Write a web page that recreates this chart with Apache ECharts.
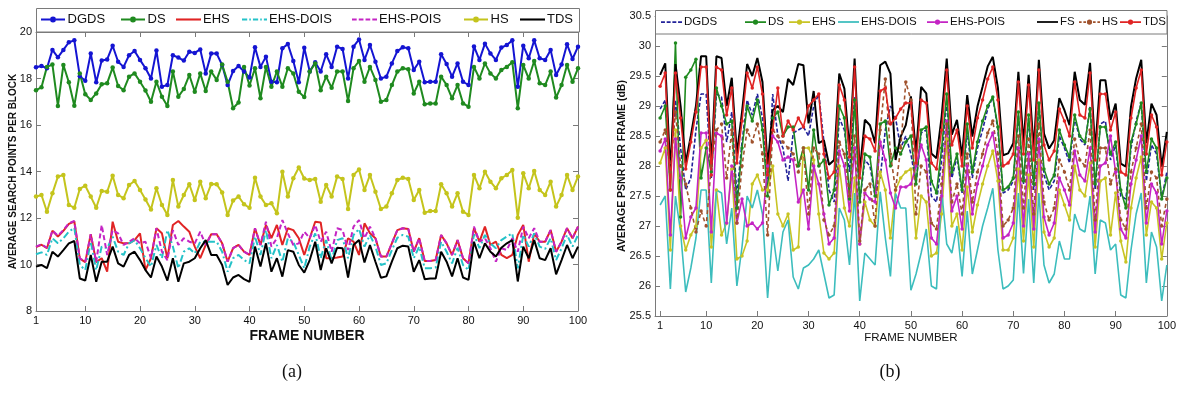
<!DOCTYPE html>
<html><head><meta charset="utf-8">
<script src="https://cdn.jsdelivr.net/npm/echarts@6/dist/echarts.min.js"></script>
<style>html,body{margin:0;padding:0;background:#fff}#c{width:1179px;height:409px}</style>
</head><body><div id="c"></div>
<script>
// ---------- Panel (a): average search points per block ----------
const xTicks = [1,10,20,30,40,50,60,70,80,90,100];
const a_DGDS = [18.48,18.54,18.44,19.23,18.91,19.23,19.56,19.64,18.1,17.9,
19.08,17.84,18.77,18.82,19.41,18.72,18.5,19.0,19.18,18.8,
18.44,18.0,19.2,17.65,17.72,19.0,18.9,18.77,19.15,19.1,
19.25,18.22,19.07,19.07,18.58,17.72,18.32,18.54,18.3,18.04,
19.34,18.5,18.94,17.86,17.84,19.3,19.48,18.75,17.84,19.32,
18.3,18.7,18.3,19.04,18.5,19.37,19.27,18.0,19.37,19.68,
18.8,19.44,18.72,18.0,18.08,18.65,19.18,19.34,19.3,18.37,
18.72,17.84,17.86,17.86,19.04,18.62,18.08,18.65,17.86,17.72,
19.38,18.8,19.5,19.08,18.8,19.33,19.44,19.64,17.65,19.41,
18.87,19.64,18.87,18.8,19.23,18.15,18.6,19.47,18.84,19.37];
const a_DS = [17.5,17.62,18.5,18.6,16.82,18.58,17.84,16.83,18.22,17.32,
17.08,17.36,17.75,17.8,18.47,17.68,17.5,18.08,18.22,17.86,
17.48,17.0,17.86,17.22,16.82,18.3,17.22,17.55,18.15,17.43,
18.22,17.46,18.3,17.94,18.6,17.86,16.72,16.97,18.5,17.7,
18.44,17.15,18.5,17.65,18.3,17.65,18.44,18.22,17.43,17.2,
18.3,18.65,17.5,18.08,17.6,18.3,18.3,17.03,18.44,18.75,
17.86,18.5,17.94,17.0,17.08,17.72,18.3,18.44,18.4,17.36,
17.86,16.89,16.93,16.93,18.08,17.72,17.15,17.72,16.93,16.79,
18.5,18.0,18.65,18.22,18.0,18.37,18.5,18.7,16.72,18.58,
18.0,18.75,17.8,17.72,18.3,17.18,17.72,18.58,17.86,18.44];
const a_EHS = [10.75,10.85,10.7,11.45,11.2,11.45,11.75,11.85,10.25,10.1,
11.3,10.1,10.27,9.69,11.84,10.98,10.91,10.91,11.05,11.34,
9.76,10.27,11.56,11.34,10.27,11.7,11.87,11.63,11.41,10.77,
10.27,10.84,11.3,11.3,10.91,10.12,10.7,10.84,10.55,10.41,
11.56,10.84,11.7,11.13,11.7,10.84,11.56,11.48,11.13,10.41,
11.13,11.84,11.81,10.27,10.27,10.3,10.34,11.13,10.98,10.41,
11.77,11.34,11.13,10.34,10.34,10.91,11.48,11.56,11.53,10.55,
11.13,10.15,10.15,10.19,11.27,10.91,10.41,11.05,10.27,10.05,
11.56,10.98,11.63,10.84,10.98,10.41,10.27,10.41,11.27,11.7,
10.12,11.34,10.98,10.98,11.48,10.55,10.98,11.56,11.13,11.63];
const a_EHS_DOIS = [10.44,10.52,10.41,11.13,10.91,11.13,11.41,11.58,9.98,9.76,
10.98,9.76,10.77,10.7,11.2,10.55,10.41,10.91,11.05,10.7,
10.27,9.91,10.84,10.27,11.48,10.77,9.84,10.55,10.7,10.48,
10.98,10.98,10.98,10.98,10.55,9.69,10.27,10.41,10.19,10.05,
11.2,10.41,11.48,10.27,10.84,10.12,11.13,10.98,10.41,9.84,
10.77,11.34,10.27,11.05,10.19,11.05,11.13,10.27,11.27,11.53,
10.77,11.27,10.77,9.98,10.05,10.62,11.15,11.27,11.2,10.27,
10.77,9.84,9.84,9.87,10.98,10.55,10.05,10.72,9.98,9.76,
11.3,10.7,11.27,10.91,10.7,11.05,11.2,11.34,9.84,11.27,
10.77,11.34,10.77,10.67,11.13,10.19,10.7,11.27,10.77,11.27];
const a_EHS_POIS = [10.77,10.87,10.72,11.46,11.24,11.48,11.77,11.87,10.27,10.12,
11.3,10.12,11.7,10.41,11.48,11.34,10.84,10.98,11.13,10.91,
10.98,10.27,11.56,10.55,10.19,11.48,10.84,11.13,10.98,10.91,
11.41,10.84,11.3,11.3,10.91,10.12,10.7,10.84,10.55,10.41,
11.56,10.84,11.84,10.77,11.13,11.91,11.34,10.84,10.91,11.41,
11.13,11.7,10.98,11.41,10.55,11.56,11.48,10.62,11.63,11.91,
11.13,11.63,11.13,10.34,10.34,10.91,11.48,11.56,11.53,10.55,
11.13,10.15,10.15,10.19,11.27,10.91,10.41,11.05,10.27,10.05,
11.63,10.98,11.13,10.7,10.12,10.7,10.62,11.13,10.55,11.63,
11.13,11.56,10.98,10.98,11.48,10.55,10.98,11.56,11.13,11.63];
const a_HS = [12.92,12.99,12.27,13.06,13.78,13.85,12.56,12.44,13.25,13.39,
12.92,12.44,13.16,13.13,13.82,12.99,12.85,13.42,13.59,13.2,
12.8,12.37,13.28,12.56,12.13,13.63,12.49,12.99,13.45,12.77,
13.56,12.85,13.46,13.45,13.1,12.13,12.75,12.92,12.59,12.44,
13.73,12.92,12.56,12.63,12.2,13.99,12.92,13.71,14.17,13.7,
13.63,13.68,12.7,13.42,12.92,13.78,13.68,12.39,13.85,14.09,
13.2,13.85,13.13,12.39,12.49,13.06,13.63,13.73,13.68,12.77,
13.2,12.23,12.3,12.3,13.45,13.06,12.49,13.06,12.27,12.13,
13.85,13.28,13.99,13.56,13.28,13.71,13.85,14.06,12.01,13.92,
13.28,14.02,13.2,12.99,13.56,12.49,12.99,13.85,13.2,13.78];
const a_TDS = [9.91,9.98,9.84,10.55,10.34,10.62,10.91,11.01,9.4,9.31,
10.41,9.26,10.12,10.12,10.77,10.05,9.91,10.41,10.55,10.19,
9.76,9.44,10.34,9.91,9.31,10.27,9.26,10.05,10.12,10.27,
10.7,11.05,10.41,10.41,9.98,9.12,9.44,9.55,9.37,9.25,
10.77,9.91,10.91,9.69,10.27,9.48,10.62,10.55,9.98,9.65,
10.19,10.98,9.76,10.7,10.05,10.72,10.7,9.44,10.84,11.05,
10.09,10.84,10.12,9.43,9.49,10.12,10.7,10.81,10.77,9.69,
10.19,9.37,9.4,9.4,10.55,10.12,9.49,10.27,9.44,9.34,
10.98,10.27,10.91,10.55,10.34,10.72,10.91,11.05,9.27,10.77,
10.27,11.05,10.27,10.19,10.7,9.58,10.19,10.84,10.27,10.77];

// ---------- Panel (b): average PSNR per frame (dB) ----------
const b_DGDS = [28.95,29.1,28.0,29.1,28.3,27.6,27.8,28.6,29.2,29.2,
27.8,29.2,29.15,28.4,28.9,27.5,28.4,29.1,28.85,29.2,
28.8,27.6,29.2,28.5,28.3,27.75,28.55,28.6,28.65,28.5,
29.0,29.2,28.4,27.6,27.4,28.8,28.6,27.9,29.15,27.4,
28.1,28.0,27.5,27.8,28.6,29.0,28.8,28.3,28.5,28.2,
27.7,28.55,28.6,27.5,27.4,28.1,29.1,27.8,28.15,27.55,
28.6,27.8,28.3,28.6,28.95,29.15,28.6,27.55,27.6,27.75,
28.85,27.7,28.8,27.6,29.05,27.85,27.6,27.75,28.5,28.3,
28.05,28.8,28.45,28.35,29.0,27.6,28.7,28.75,28.1,28.35,
27.5,27.45,28.3,28.75,29.05,27.75,28.35,28.2,27.45,27.9];
const b_DS = [28.8,29.0,27.6,30.05,27.15,29.48,29.6,29.78,27.8,28.3,
27.9,29.3,29.0,28.7,28.75,27.3,28.3,29.0,28.75,29.1,
28.6,27.5,28.8,28.9,28.5,28.65,28.65,28.0,28.3,27.6,
28.6,28.0,28.1,27.35,27.6,29.0,28.8,27.45,29.1,27.4,
28.2,28.15,27.5,28.7,28.75,28.0,28.3,28.2,28.4,28.5,
27.7,28.6,28.65,27.75,27.55,28.3,29.2,27.9,28.2,27.6,
28.7,27.9,28.4,28.75,29.0,29.15,28.65,27.6,27.65,27.8,
28.9,27.75,28.85,27.7,29.05,27.95,27.7,27.85,28.6,28.35,
28.15,28.85,28.5,28.4,28.95,27.7,28.65,28.65,28.2,28.4,
27.6,27.3,28.4,28.7,29.05,27.9,28.45,28.3,27.45,27.8];
const b_EHS = [28.05,28.3,26.6,28.6,27.0,26.6,26.85,27.0,28.3,28.43,
26.65,27.6,26.85,27.05,27.95,26.45,26.5,26.75,27.7,27.85,
27.6,27.6,28.0,27.2,27.0,27.2,26.6,26.65,28.3,28.3,
28.1,27.2,26.55,26.45,26.55,28.0,27.3,27.0,27.8,26.7,
27.4,27.1,27.0,27.9,27.6,26.8,27.6,27.8,27.9,27.95,
26.8,27.5,27.4,26.5,26.55,27.2,28.45,27.0,27.2,26.6,
27.65,26.9,27.35,27.7,28.0,28.25,27.75,26.6,26.6,26.8,
27.95,26.75,27.85,26.65,28.1,26.9,26.65,26.8,27.6,27.35,
27.1,28.0,27.6,27.5,28.05,26.65,27.75,27.8,26.85,27.55,
26.75,26.4,27.3,27.8,28.15,26.85,27.4,27.3,26.45,27.05];
const b_EHS_DOIS = [27.35,27.5,25.95,27.5,26.9,25.9,26.3,26.8,27.6,27.6,
26.05,27.6,27.55,26.7,27.3,26.0,26.65,27.5,27.3,27.6,
27.2,25.8,26.9,26.25,26.9,27.1,26.15,25.95,26.3,26.35,
26.45,26.6,26.2,25.8,25.85,27.3,27.1,26.35,27.55,25.75,
26.55,26.45,26.35,27.57,26.8,26.16,27.54,27.3,27.3,25.93,
26.2,26.55,26.95,26.0,25.95,27.6,26.7,26.55,27.0,26.16,
27.25,26.2,26.6,27.0,27.3,27.63,26.6,25.95,26.0,26.1,
27.55,26.21,27.45,26.05,27.55,26.35,26.05,26.2,26.75,26.45,
26.45,27.2,26.95,26.9,27.5,26.2,27.1,27.05,26.6,26.7,
25.85,25.8,26.6,27.2,27.55,26.05,26.9,26.65,25.75,26.35];
const b_EHS_POIS = [28.25,28.45,26.85,28.45,27.8,26.8,27.15,27.3,28.55,28.55,
26.9,28.55,28.5,27.05,28.0,27.05,27.45,27.0,27.05,26.95,
27.05,28.0,28.5,28.4,28.1,28.15,28.1,27.4,27.6,26.95,
28.0,27.7,27.2,26.7,26.8,28.25,28.0,27.25,28.3,26.7,
27.55,27.45,27.4,28.4,28.1,27.55,27.3,27.65,27.65,27.7,
28.0,28.35,28.1,26.8,26.7,27.5,28.75,27.25,27.5,26.95,
28.0,27.2,27.7,28.0,28.35,28.55,28.0,26.8,26.85,27.05,
28.3,27.0,28.2,26.95,28.45,27.15,26.85,27.05,27.8,27.6,
27.35,28.25,27.85,27.75,28.3,26.9,28.0,28.05,28.5,27.9,
26.95,26.8,27.7,28.1,28.5,27.05,27.7,27.55,26.7,27.25];
const b_FS = [29.52,29.71,27.9,29.7,29.0,28.05,28.5,29.0,29.83,29.83,
28.0,29.83,29.8,29.0,29.47,28.2,28.9,29.7,29.5,29.8,
29.4,27.99,28.93,29.0,28.9,29.45,29.35,29.7,29.68,28.71,
29.25,28.38,28.43,28.02,28.1,29.54,29.29,28.27,29.79,27.9,
28.77,28.68,28.38,29.68,29.74,29.54,28.1,28.49,28.68,29.16,
28.21,29.32,29.21,28.21,28.13,28.82,29.79,28.52,28.77,28.16,
29.18,28.49,28.99,29.32,29.66,29.82,29.3,28.18,28.21,28.38,
29.57,28.38,29.52,28.27,29.77,28.54,28.29,28.43,29.13,28.93,
28.68,29.57,29.1,29.02,29.72,28.27,29.43,29.43,28.77,29.04,
28.04,27.99,28.99,29.46,29.77,28.38,29.04,28.85,27.99,28.57];
const b_HS = [28.4,28.6,27.9,28.9,28.0,27.7,27.3,26.9,27.25,27.0,
28.0,28.6,28.7,27.8,28.6,27.05,28.0,28.6,28.4,28.7,
28.2,26.85,28.6,28.5,28.4,28.3,28.2,27.9,28.3,27.2,
28.3,28.2,27.1,26.85,27.0,28.4,28.2,27.5,28.5,26.75,
27.6,27.7,27.0,28.6,29.45,28.2,27.6,28.3,29.4,29.1,
27.2,28.0,27.9,27.05,26.95,27.7,28.7,27.4,27.7,27.2,
28.2,27.4,27.9,28.2,28.55,28.75,28.2,27.0,27.1,27.3,
28.5,27.3,28.45,27.2,28.7,27.4,27.1,27.3,28.1,27.9,
27.6,28.45,28.1,28.0,28.6,27.1,28.3,28.3,27.7,27.95,
27.1,26.95,27.9,28.3,28.7,27.3,27.9,27.8,27.0,27.45];
const b_TDS = [29.33,29.55,27.6,29.55,28.8,27.95,28.4,28.9,29.65,29.65,
27.85,29.65,29.6,28.85,29.3,28.05,28.75,29.55,29.3,29.65,
29.2,27.85,28.6,29.3,28.5,28.75,28.6,28.8,28.65,29.0,
29.1,29.2,28.2,27.8,27.9,29.35,29.1,28.15,29.65,27.8,
28.5,28.45,28.25,29.25,29.3,28.7,28.8,28.95,29.05,29.05,
28.05,29.1,29.05,28.05,27.95,28.6,29.6,28.35,28.6,28.0,
29.0,28.3,28.8,29.1,29.45,29.65,29.1,28.0,28.05,28.2,
29.4,28.2,29.35,28.1,29.6,28.35,28.1,28.25,28.95,28.75,
28.5,29.4,28.85,28.8,29.55,28.1,29.2,29.2,28.6,28.9,
27.9,27.85,28.8,29.3,29.6,28.2,28.85,28.65,27.85,28.4];

const FONT = '"Liberation Sans", Arial, sans-serif';
const pairs = v => v.map((y, i) => [i + 1, y]);

// legend icon shapes (24 x 6 box)
const ICON_LINE = 'path://M0,2L24,2L24,4L0,4Z';
const ICON_DOT = 'path://M0,2L9,2L9,4L0,4Z M15,2L24,2L24,4L15,4Z M9,3A3,3 0 1,1 15,3A3,3 0 1,1 9,3Z';
const ICON_DASH = 'path://M0,2L4.5,2L4.5,4L0,4Z M6.5,2L11,2L11,4L6.5,4Z M13,2L17.5,2L17.5,4L13,4Z M19.5,2L24,2L24,4L19.5,4Z';
const ICON_DASHDOT = 'path://M0,2L5,2L5,4L0,4Z M7,2L8.5,2L8.5,4L7,4Z M10.5,2L15.5,2L15.5,4L10.5,4Z M17.5,2L19,2L19,4L17.5,4Z M21,2L24,2L24,4L21,4Z';
const ICON_DASHDOTM = 'path://M0,2L3,2L3,4L0,4Z M5,2L8,2L8,4L5,4Z M16,2L19,2L19,4L16,4Z M21,2L24,2L24,4L21,4Z M9,3A3,3 0 1,1 15,3A3,3 0 1,1 9,3Z';

const chart = echarts.init(document.getElementById('c'), null, {renderer: 'canvas'});

function xAx(grid, min, pos, show, size, name, nameSize, nameBold, gap) {
  return {
    type: 'value', gridIndex: grid, min: min, max: 100, position: pos,
    axisLine: {show: true, onZero: false, lineStyle: {color: '#7a7a7a', width: 1}},
    axisTick: {show: true, inside: true, length: 5, customValues: xTicks, lineStyle: {color: '#7a7a7a'}},
    axisLabel: {show: show, customValues: xTicks, color: '#111', fontFamily: FONT, fontSize: size, margin: 4},
    splitLine: {show: false},
    name: show ? name : '', nameLocation: 'middle', nameGap: gap, nameMoveOverlap: false,
    nameTextStyle: {fontFamily: FONT, fontSize: nameSize, fontWeight: nameBold ? 'bold' : 'normal', color: '#111'}
  };
}
function yAx(grid, min, max, interval, pos, show, size, name, nameSize, gap) {
  return {
    type: 'value', gridIndex: grid, min: min, max: max, interval: interval, position: pos,
    axisLine: {show: true, onZero: false, lineStyle: {color: '#7a7a7a', width: 1}},
    axisTick: {show: true, inside: true, length: 5, lineStyle: {color: '#7a7a7a'}},
    axisLabel: {show: show, color: '#111', fontFamily: FONT, fontSize: size, margin: 4},
    splitLine: {show: false},
    name: show ? name : '', nameLocation: 'middle', nameRotate: 90, nameGap: gap, nameMoveOverlap: false,
    nameTextStyle: {fontFamily: FONT, fontSize: nameSize, fontWeight: 'bold', color: '#111'}
  };
}

function lineA(name, data, color, opts) {
  return Object.assign({
    type: 'line', name: name, xAxisIndex: 0, yAxisIndex: 0, data: pairs(data),
    symbol: 'none', showSymbol: false, symbolSize: 4.5,
    lineStyle: {color: color, width: 2}, itemStyle: {color: color},
    animation: false, z: 3
  }, opts || {});
}
function lineB(name, data, color, opts) {
  return Object.assign({
    type: 'line', name: 'b:' + name, xAxisIndex: 2, yAxisIndex: 2, data: pairs(data),
    symbol: 'none', showSymbol: false, symbolSize: 3.5,
    lineStyle: {color: color, width: 1.6}, itemStyle: {color: color},
    animation: false, z: 3
  }, opts || {});
}
const dots = {symbol: 'circle', showSymbol: true};

const series = [
  lineA('DGDS', a_DGDS, '#1414d2', dots),
  lineA('DS', a_DS, '#1f8a1f', dots),
  lineA('EHS', a_EHS, '#e02424'),
  lineA('EHS-DOIS', a_EHS_DOIS, '#24c2c8', {lineStyle: {color: '#24c2c8', width: 2, type: [7, 3, 2, 3]}}),
  lineA('EHS-POIS', a_EHS_POIS, '#c424c4', {lineStyle: {color: '#c424c4', width: 2, type: [5, 3]}}),
  lineA('HS', a_HS, '#c4c41c', dots),
  lineA('TDS', a_TDS, '#000000'),
  lineB('DGDS', b_DGDS, '#22229a', {lineStyle: {color: '#22229a', width: 1.6, type: [4, 2]}}),
  lineB('DS', b_DS, '#1f8a1f', dots),
  lineB('EHS', b_EHS, '#c8c424', dots),
  lineB('EHS-DOIS', b_EHS_DOIS, '#3cbdbd'),
  lineB('EHS-POIS', b_EHS_POIS, '#c424c4', dots),
  lineB('FS', b_FS, '#000000', {lineStyle: {color: '#000', width: 2}}),
  lineB('HS', b_HS, '#a0522d', Object.assign({lineStyle: {color: '#a0522d', width: 1.6, type: [4, 3]}}, dots)),
  lineB('TDS', b_TDS, '#e02424', dots)
];

const legA = [['DGDS', 41, ICON_DOT], ['DS', 121, ICON_DOT], ['EHS', 176, ICON_LINE], ['EHS-DOIS', 242, ICON_DASHDOT],
              ['EHS-POIS', 352, ICON_DASH], ['HS', 464, ICON_DOT], ['TDS', 520, ICON_LINE]];
const legB = [['DGDS', 661, ICON_DASH], ['DS', 745, ICON_DOT], ['EHS', 789, ICON_DOT], ['EHS-DOIS', 838, ICON_LINE],
              ['EHS-POIS', 927, ICON_DOT], ['FS', 1037, ICON_LINE], ['HS', 1079, ICON_DASHDOTM], ['TDS', 1120, ICON_DOT]];
const legends = [];
legA.forEach(([n, x, ic]) => legends.push({
  data: [{name: n, icon: ic}], left: x, top: 13, itemWidth: 25, itemHeight: 6, itemGap: 0, padding: 0,
  selectedMode: false, z: 50, itemStyle: {borderWidth: 0},
  textStyle: {fontFamily: FONT, fontSize: 13, color: '#111', padding: [0, 0, 0, -3]}
}));
legB.forEach(([n, x, ic]) => legends.push({
  data: [{name: 'b:' + n, icon: ic}], left: x, top: 16, itemWidth: 21, itemHeight: 5.25, itemGap: 0, padding: 0,
  selectedMode: false, z: 50, itemStyle: {borderWidth: 0}, formatter: s => s.replace('b:', ''),
  textStyle: {fontFamily: FONT, fontSize: 11.5, color: '#111', padding: [0, 0, 0, -3]}
}));

chart.setOption({
  animation: false,
  backgroundColor: '#fff',
  grid: [
    {left: 36, top: 32, width: 542, height: 279, containLabel: false},
    {left: 655, top: 16, width: 512, height: 300, containLabel: false}
  ],
  xAxis: [
    xAx(0, 1, 'bottom', true, 11, 'FRAME NUMBER', 14, true, 18),
    xAx(0, 1, 'top', false, 11, '', 14, true, 18),
    xAx(1, 0, 'bottom', true, 11, 'FRAME NUMBER', 11.5, false, 16),
    xAx(1, 0, 'top', false, 11, '', 11.5, false, 16)
  ],
  yAxis: [
    yAx(0, 8, 20, 2, 'left', true, 11, 'AVERAGE SEARCH POINTS PER BLOCK', 10, 18),
    yAx(0, 8, 20, 2, 'right', false, 11, '', 10, 18),
    yAx(1, 25.5, 30.5, 0.5, 'left', true, 11, 'AVERAGE PSNR PER FRAME (dB)', 10.5, 27),
    yAx(1, 25.5, 30.5, 0.5, 'right', false, 11, '', 10.5, 27)
  ],
  legend: legends,
  series: series,
  graphic: [
    {type: 'rect', z: 40, shape: {x: 36.5, y: 8.5, width: 543, height: 23.5}, style: {fill: '#fff', stroke: '#7a7a7a', lineWidth: 1}},
    {type: 'rect', z: 40, shape: {x: 655.5, y: 10.5, width: 511.5, height: 23.5}, style: {fill: '#fff', stroke: '#7a7a7a', lineWidth: 1}},
    {type: 'text', z: 40, x: 292, y: 372, style: {text: '(a)', font: '18px "Liberation Serif", "Times New Roman", serif', fill: '#111', textAlign: 'center', textVerticalAlign: 'middle'}},
    {type: 'text', z: 40, x: 890, y: 372, style: {text: '(b)', font: '18px "Liberation Serif", "Times New Roman", serif', fill: '#111', textAlign: 'center', textVerticalAlign: 'middle'}}
  ]
});
</script></body></html>
